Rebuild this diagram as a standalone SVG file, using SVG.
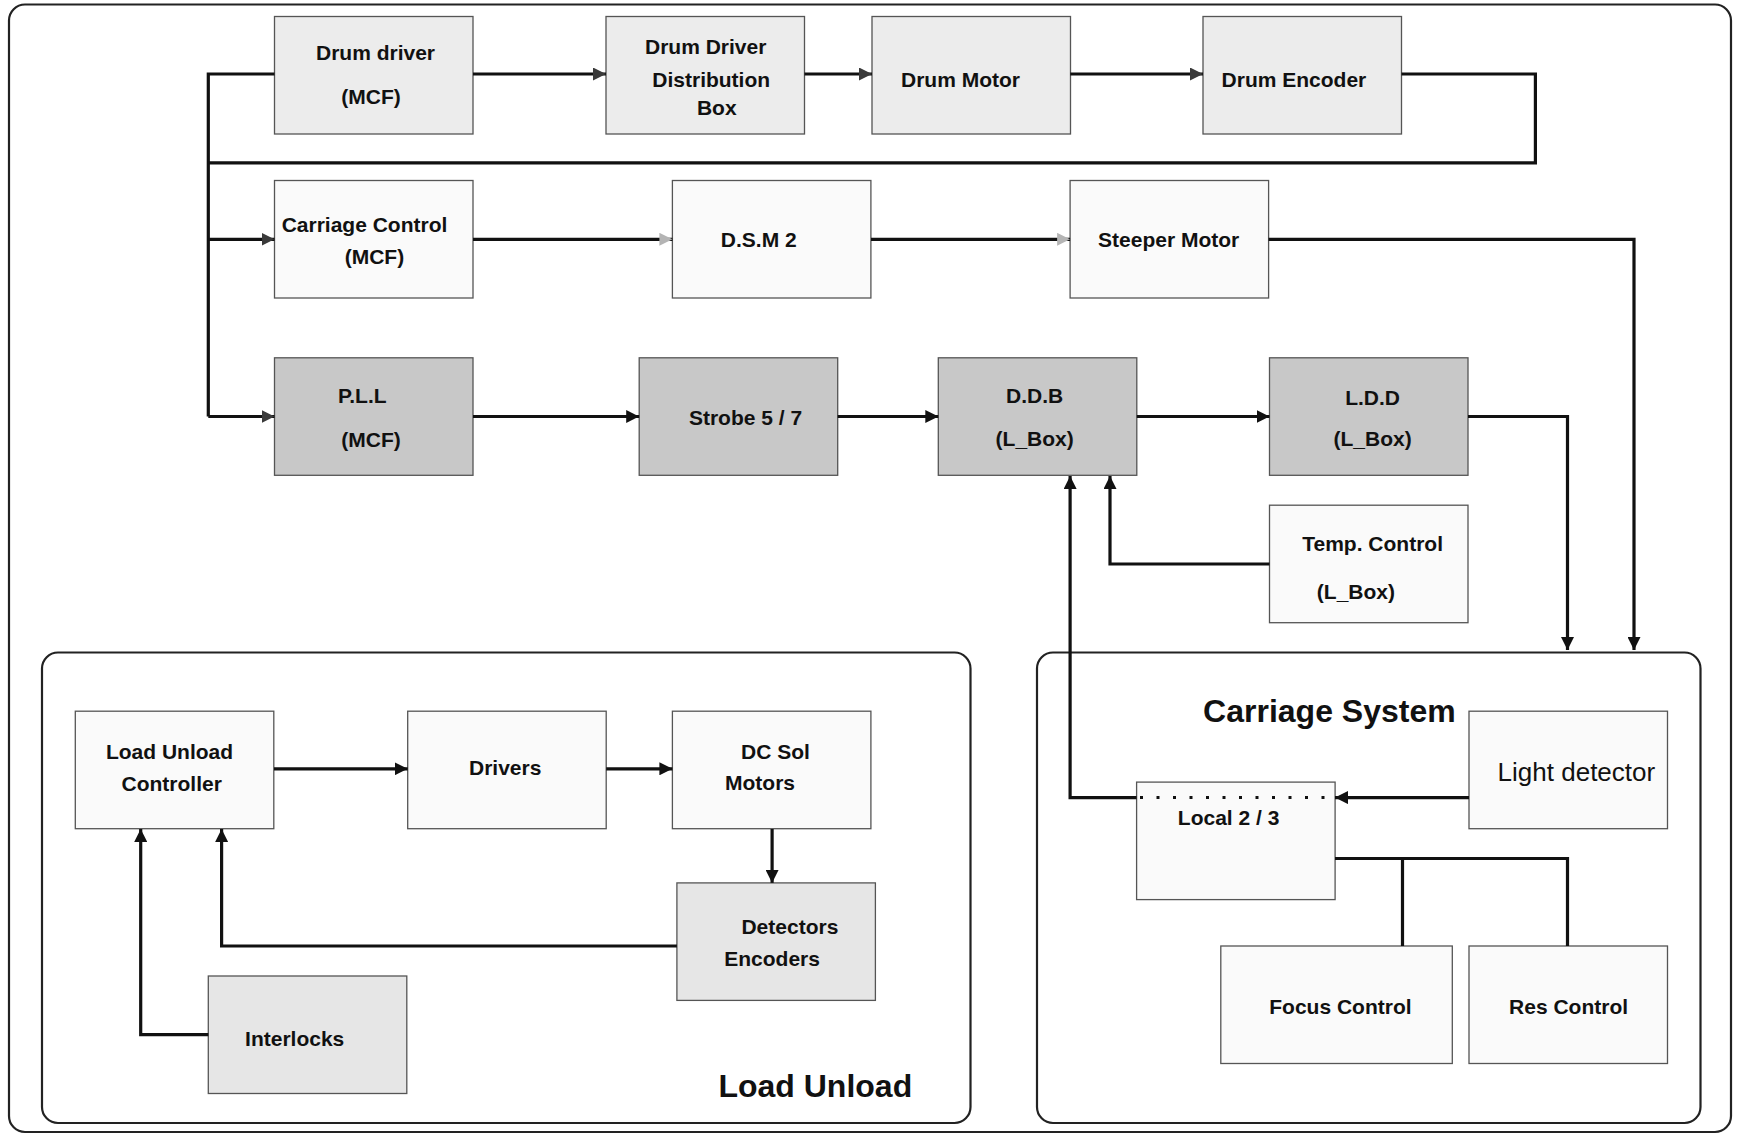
<svg xmlns="http://www.w3.org/2000/svg" width="1737" height="1136" viewBox="0 0 1737 1136">
<style>
.box{stroke:#555;stroke-width:1.3}
.l1{fill:#ececec}.l2{fill:#fafafa}.l3{fill:#c8c8c8}.l4{fill:#e6e6e6}
.t{font-family:"Liberation Sans",Arial,sans-serif;font-weight:bold;font-size:21px;fill:#111;text-anchor:middle}
.big{font-size:32px}
.reg{font-weight:normal;font-size:26px}
.c{fill:none;stroke:#111;stroke-width:3.2}
.frame{fill:#fff;stroke:#222;stroke-width:2.2}
</style>
<defs>
<marker id="ab" viewBox="0 0 12 12" refX="12" refY="6" markerWidth="13" markerHeight="13" markerUnits="userSpaceOnUse" orient="auto"><path d="M0,0 L12,6 L0,12 z" fill="#111"/></marker>
<marker id="ad" viewBox="0 0 12 12" refX="12" refY="6" markerWidth="13" markerHeight="13" markerUnits="userSpaceOnUse" orient="auto"><path d="M0,0 L12,6 L0,12 z" fill="#3a3a3a"/></marker>
<marker id="al" viewBox="0 0 12 12" refX="12" refY="6" markerWidth="13" markerHeight="13" markerUnits="userSpaceOnUse" orient="auto"><path d="M0,0 L12,6 L0,12 z" fill="#b4b4b4"/></marker>
</defs>
<rect width="1737" height="1136" fill="#fff"/>
<rect class="frame" x="9" y="4.5" width="1722" height="1127.5" rx="16"/>
<rect id="grp-load-unload" class="frame" x="42" y="652.5" width="928.5" height="470.5" rx="16"/>
<rect id="grp-carriage" class="frame" x="1037" y="652.5" width="663.5" height="470.5" rx="16"/>

<g id="drum-driver"><rect class="box l1" x="274.5" y="16.5" width="198.5" height="117.5"/><text class="t" x="375.5" y="60">Drum driver</text><text class="t" x="371" y="103.5">(MCF)</text></g>
<g id="drum-dist-box"><rect class="box l1" x="606" y="16.5" width="198.5" height="117.5"/><text class="t" x="705.7" y="53.5">Drum Driver</text><text class="t" x="711.2" y="86.8">Distribution</text><text class="t" x="716.8" y="114.5">Box</text></g>
<g id="drum-motor"><rect class="box l1" x="872" y="16.5" width="198.5" height="117.5"/><text class="t" x="960.5" y="86.8">Drum Motor</text></g>
<g id="drum-encoder"><rect class="box l1" x="1203" y="16.5" width="198.5" height="117.5"/><text class="t" x="1293.9" y="86.8">Drum Encoder</text></g>

<g id="carriage-control"><rect class="box l2" x="274.5" y="180.5" width="198.5" height="117.5"/><text class="t" x="364.5" y="231.9">Carriage Control</text><text class="t" x="374.4" y="264">(MCF)</text></g>
<g id="dsm2"><rect class="box l2" x="672.4" y="180.5" width="198.5" height="117.5"/><text class="t" x="758.8" y="247.4">D.S.M 2</text></g>
<g id="steeper-motor"><rect class="box l2" x="1070.1" y="180.5" width="198.5" height="117.5"/><text class="t" x="1168.7" y="247.4">Steeper Motor</text></g>

<g id="pll"><rect class="box l3" x="274.5" y="357.8" width="198.5" height="117.5"/><text class="t" x="362.3" y="402.5">P.L.L</text><text class="t" x="371.1" y="446.8">(MCF)</text></g>
<g id="strobe"><rect class="box l3" x="639.2" y="357.8" width="198.5" height="117.5"/><text class="t" x="745.5" y="424.6">Strobe 5 / 7</text></g>
<g id="ddb"><rect class="box l3" x="938.3" y="357.8" width="198.5" height="117.5"/><text class="t" x="1034.7" y="402.5">D.D.B</text><text class="t" x="1034.7" y="445.7">(L_Box)</text></g>
<g id="ldd"><rect class="box l3" x="1269.5" y="357.8" width="198.5" height="117.5"/><text class="t" x="1372.6" y="404.7">L.D.D</text><text class="t" x="1372.6" y="445.7">(L_Box)</text></g>
<g id="temp-control"><rect class="box l2" x="1269.5" y="505.2" width="198.5" height="117.5"/><text class="t" x="1372.6" y="550.9">Temp. Control</text><text class="t" x="1355.9" y="598.6">(L_Box)</text></g>

<g id="lu-controller"><rect class="box l2" x="75.3" y="711.2" width="198.5" height="117.5"/><text class="t" x="169.5" y="759.2">Load Unload</text><text class="t" x="171.7" y="791.3">Controller</text></g>
<g id="drivers"><rect class="box l2" x="407.7" y="711.2" width="198.5" height="117.5"/><text class="t" x="505.2" y="774.7">Drivers</text></g>
<g id="dc-sol-motors"><rect class="box l2" x="672.4" y="711.2" width="198.5" height="117.5"/><text class="t" x="775.5" y="759.2">DC Sol</text><text class="t" x="760" y="790.2">Motors</text></g>
<g id="detectors-encoders"><rect class="box l4" x="676.9" y="882.9" width="198.5" height="117.5"/><text class="t" x="789.9" y="934.2">Detectors</text><text class="t" x="772.1" y="966.4">Encoders</text></g>
<g id="interlocks"><rect class="box l4" x="208.3" y="976" width="198.5" height="117.5"/><text class="t" x="294.7" y="1046.1">Interlocks</text></g>
<text class="t big" x="815.3" y="1096.6">Load Unload</text>

<text class="t big" x="1329.4" y="722.2">Carriage System</text>
<g id="light-detector"><rect class="box l2" x="1469" y="711.2" width="198.5" height="117.5"/><text class="t reg" x="1576.4" y="781">Light detector</text></g>
<g id="local-2-3"><rect class="box l2" x="1136.6" y="782.1" width="198.5" height="117.5"/><text class="t" x="1228.6" y="824.6">Local 2 / 3</text></g>
<g id="focus-control"><rect class="box l2" x="1220.8" y="946" width="231.5" height="117.5"/><text class="t" x="1340.4" y="1014">Focus Control</text></g>
<g id="res-control"><rect class="box l2" x="1469" y="946" width="198.5" height="117.5"/><text class="t" x="1568.6" y="1014">Res Control</text></g>

<g id="connectors">
<path class="c" d="M274.5,74 H208.3 V416.5"/>
<path class="c" d="M473,74 H606" marker-end="url(#ad)"/>
<path class="c" d="M804.5,74 H872" marker-end="url(#ad)"/>
<path class="c" d="M1070.3,74 H1203" marker-end="url(#ad)"/>
<path class="c" d="M1401.5,74 H1535.4 V162.8 H208.3"/>
<path class="c" d="M208.3,239.3 H274.5" marker-end="url(#ad)"/>
<path class="c" d="M473,239.3 H672.4" marker-end="url(#al)"/>
<path class="c" d="M871,239.3 H1070.1" marker-end="url(#al)"/>
<path class="c" d="M1268.6,239.3 H1634 V650" marker-end="url(#ab)"/>
<path class="c" d="M208.3,416.5 H274.5" marker-end="url(#ad)"/>
<path class="c" d="M473,416.5 H639.2" marker-end="url(#ab)"/>
<path class="c" d="M837.7,416.5 H938.3" marker-end="url(#ab)"/>
<path class="c" d="M1136.8,416.5 H1269.5" marker-end="url(#ab)"/>
<path class="c" d="M1468,416.5 H1567.5 V650" marker-end="url(#ab)"/>
<path class="c" d="M1269.5,564 H1110 V476" marker-end="url(#ab)"/>
<path class="c" d="M1136.6,797.6 H1070.1 V476" marker-end="url(#ab)"/>
<path d="M1140,797.6 H1330" fill="none" stroke="#111" stroke-width="3" stroke-dasharray="3 13.5"/>
<path class="c" d="M1469,797.6 H1335" marker-end="url(#ab)"/>
<path class="c" d="M1335,858.5 H1567.5 V946 M1402.5,858.5 V946"/>
<path class="c" d="M274,768.8 H407.7" marker-end="url(#ab)"/>
<path class="c" d="M606.2,768.8 H672.4" marker-end="url(#ab)"/>
<path class="c" d="M772.1,829 V882.9" marker-end="url(#ab)"/>
<path class="c" d="M676.9,946 H221.6 V829" marker-end="url(#ab)"/>
<path class="c" d="M208.3,1034.7 H140.7 V829" marker-end="url(#ab)"/>
</g>
</svg>
